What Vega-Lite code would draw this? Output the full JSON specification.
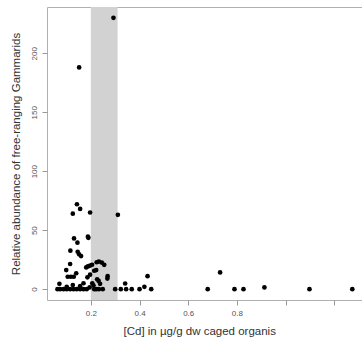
{
  "$schema": "https://vega.github.io/schema/vega-lite/v6.json",
  "width": 317,
  "height": 293,
  "autosize": {"type": "none"},
  "padding": {"left": 47, "top": 7, "right": 0, "bottom": 39},
  "background": "white",
  "config": {
    "view": {"stroke": "#b0b0b0", "strokeWidth": 1},
    "font": "Liberation Sans"
  },
  "datasets": {
    "band": [{"lo": 0.2, "hi": 0.31}],
    "pts": [
      {"cd": 0.293, "abund": 230},
      {"cd": 0.152, "abund": 188},
      {"cd": 0.143, "abund": 72},
      {"cd": 0.156, "abund": 68},
      {"cd": 0.126, "abund": 64},
      {"cd": 0.197, "abund": 65},
      {"cd": 0.311, "abund": 63},
      {"cd": 0.131, "abund": 43},
      {"cd": 0.145, "abund": 39.4},
      {"cd": 0.188, "abund": 44.5},
      {"cd": 0.19, "abund": 43.5},
      {"cd": 0.116, "abund": 32.6},
      {"cd": 0.146, "abund": 31.7},
      {"cd": 0.152, "abund": 29.5},
      {"cd": 0.16, "abund": 28},
      {"cd": 0.115, "abund": 21.3},
      {"cd": 0.099, "abund": 16.2},
      {"cd": 0.105, "abund": 10.5},
      {"cd": 0.118, "abund": 10.5},
      {"cd": 0.14, "abund": 13.5},
      {"cd": 0.13, "abund": 10.5},
      {"cd": 0.181, "abund": 18.4},
      {"cd": 0.188, "abund": 19.3},
      {"cd": 0.197, "abund": 20},
      {"cd": 0.205, "abund": 20.7},
      {"cd": 0.214, "abund": 15.6},
      {"cd": 0.222, "abund": 16.2},
      {"cd": 0.224, "abund": 22.8},
      {"cd": 0.233, "abund": 23.4},
      {"cd": 0.245, "abund": 22.5},
      {"cd": 0.255, "abund": 20.6},
      {"cd": 0.186, "abund": 10},
      {"cd": 0.197, "abund": 12.3},
      {"cd": 0.226, "abund": 8.4},
      {"cd": 0.232, "abund": 7},
      {"cd": 0.206, "abund": 5},
      {"cd": 0.268, "abund": 9},
      {"cd": 0.269, "abund": 11},
      {"cd": 0.433, "abund": 11},
      {"cd": 0.341, "abund": 4.8},
      {"cd": 0.731, "abund": 14.2},
      {"cd": 0.071, "abund": 4.5},
      {"cd": 0.126, "abund": 3.5},
      {"cd": 0.17, "abund": 5},
      {"cd": 0.101, "abund": 2},
      {"cd": 0.156, "abund": 2.5},
      {"cd": 0.195, "abund": 1.5},
      {"cd": 0.211, "abund": 3},
      {"cd": 0.238, "abund": 4.5},
      {"cd": 0.063, "abund": 0},
      {"cd": 0.074, "abund": 0},
      {"cd": 0.088, "abund": 0},
      {"cd": 0.101, "abund": 0},
      {"cd": 0.115, "abund": 0},
      {"cd": 0.129, "abund": 0},
      {"cd": 0.142, "abund": 0},
      {"cd": 0.156, "abund": 0},
      {"cd": 0.17, "abund": 0},
      {"cd": 0.183, "abund": 0},
      {"cd": 0.214, "abund": 0},
      {"cd": 0.222, "abund": 0},
      {"cd": 0.233, "abund": 0},
      {"cd": 0.249, "abund": 0},
      {"cd": 0.3, "abund": 0},
      {"cd": 0.323, "abund": 0},
      {"cd": 0.345, "abund": 0},
      {"cd": 0.368, "abund": 0},
      {"cd": 0.4, "abund": 0},
      {"cd": 0.42, "abund": 2},
      {"cd": 0.448, "abund": 0},
      {"cd": 0.68, "abund": 0},
      {"cd": 0.79, "abund": 0},
      {"cd": 0.827, "abund": 0},
      {"cd": 0.913, "abund": 1.5},
      {"cd": 1.098, "abund": 0},
      {"cd": 1.274, "abund": 0}
    ]
  },
  "layer": [
    {
      "data": {"name": "band"},
      "mark": {"type": "rect", "color": "#d2d2d2"},
      "encoding": {
        "x": {"field": "lo", "type": "quantitative", "scale": {"domain": [0.02, 1.322], "nice": false, "zero": false}},
        "x2": {"field": "hi"}
      }
    },
    {
      "data": {"name": "pts"},
      "mark": {"type": "circle", "color": "black", "opacity": 1, "size": 22},
      "encoding": {
        "x": {
          "field": "cd", "type": "quantitative",
          "scale": {"domain": [0.02, 1.322], "nice": false, "zero": false},
          "axis": {
            "title": "[Cd] in µg/g dw caged organis",
            "values": [0.2, 0.4, 0.6, 0.8, 1.0, 1.2],
            "labelExpr": "datum.value < 0.9 ? format(datum.value, '.1f') : ''",
            "domain": false, "grid": false,
            "tickColor": "#999", "tickSize": 5,
            "labelFontSize": 8, "labelColor": "#555", "labelPadding": 4,
            "titleFontSize": 11.5, "titleColor": "#333", "titleFontWeight": "normal", "titlePadding": 8,
            "titleAnchor": "start", "titleAlign": "left", "titleX": 76
          }
        },
        "y": {
          "field": "abund", "type": "quantitative",
          "scale": {"domain": [-9.2, 239.2], "nice": false, "zero": false},
          "axis": {
            "title": "Relative abundance of free-ranging Gammarids",
            "values": [0, 50, 100, 150, 200],
            "domain": false, "grid": false,
            "tickColor": "#999", "tickSize": 5,
            "labelAngle": -90, "labelAlign": "center", "labelBaseline": "bottom",
            "labelFontSize": 8, "labelColor": "#555", "labelPadding": 4,
            "titleFontSize": 11.5, "titleColor": "#333", "titleFontWeight": "normal", "titlePadding": 9
          }
        }
      }
    }
  ]
}
